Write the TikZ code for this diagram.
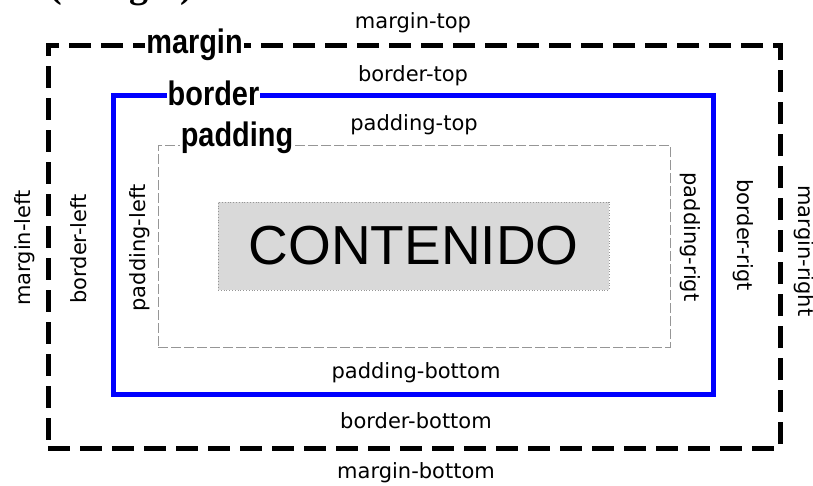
\documentclass[tikz,border=0pt]{standalone}
\usepackage{fontspec}
\setmainfont{DejaVu Sans}
\newfontfamily\boldlab{Liberation Sans}
\newfontfamily\serifhead{Liberation Serif}
\newfontfamily\contfont{Liberation Sans}
\definecolor{contgray}{RGB}{217,217,217}
\definecolor{padgray}{RGB}{150,150,150}
\begin{document}
\begin{tikzpicture}[x=1pt,y=-1pt,
  lab/.style={font=\fontsize{21}{21}\selectfont, inner sep=0pt},
  blab/.style={font=\boldlab\bfseries\fontsize{34}{34}\selectfont, xscale=0.85, fill=white, inner sep=1pt, anchor=base},
  marginbox/.style={draw=black, line width=5pt, dash pattern=on 22pt off 10pt, inner sep=0pt},
  borderbox/.style={draw={rgb,255:red,0;green,0;blue,255}, line width=5pt, inner sep=0pt},
  paddingbox/.style={draw=padgray, line width=0.8pt, dash pattern=on 10pt off 3pt, inner sep=0pt},
  contbox/.style={draw=padgray, fill=contgray, line width=0.8pt, dotted, inner sep=0pt}
]
\clip (0,0) rectangle (813,485);
\fill[white] (0,0) rectangle (813,485);

% clipped heading
\node[font=\serifhead\bfseries\fontsize{38}{38}\selectfont, anchor=base, inner sep=0pt] (head) at (121,-3) {(margin)};

% boxes
\node[marginbox, minimum width=732pt, minimum height=403pt] (mbox) at (414,246.5) {};
\node[borderbox, minimum width=600pt, minimum height=299pt] (bbox) at (413,244.5) {};
\node[paddingbox, minimum width=512pt, minimum height=202pt] (pbox) at (414,246) {};
\node[contbox, minimum width=391pt, minimum height=88pt, font=\contfont\fontsize{55}{55}\selectfont] (cont) at (413.5,246) {CONTENIDO};

% bold labels on the lines
\node[blab] (mlab) at (194.5,53) {margin};
\node[blab] (blab1) at (213.5,105) {border};
\node[blab] (plab) at (237,146) {padding};

% horizontal labels
\node[lab, anchor=base] (mtop) at (413,28) {margin-top};
\node[lab, anchor=base] (btop) at (413,81) {border-top};
\node[lab, anchor=base] (ptop) at (414,130) {padding-top};
\node[lab, anchor=base] (pbot) at (416,378) {padding-bottom};
\node[lab, anchor=base] (bbot) at (416,428) {border-bottom};
\node[lab, anchor=base] (mbot) at (416,478) {margin-bottom};

% vertical labels
\node[lab, rotate=90] (mleft) at (25,248) {margin-left};
\node[lab, rotate=90] (bleft) at (79,249) {border-left};
\node[lab, rotate=90] (pleft) at (140,248) {padding-left};
\node[lab, rotate=-90] (pright) at (690,237) {padding-rigt};
\node[lab, rotate=-90] (bright) at (743,235) {border-rigt};
\node[lab, rotate=-90] (mright) at (804,251) {margin-right};
\end{tikzpicture}
\end{document}
